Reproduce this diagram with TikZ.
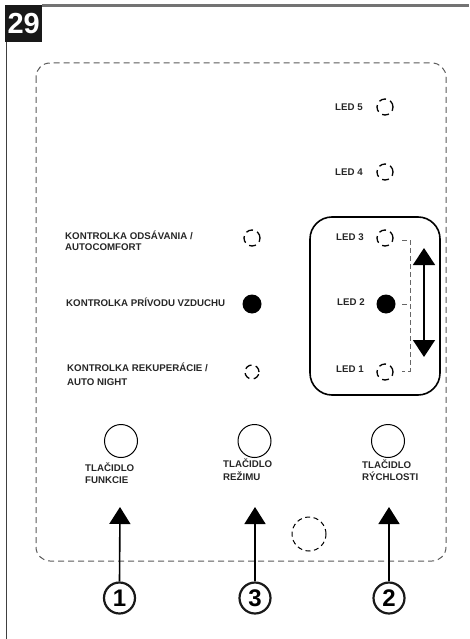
\documentclass[tikz,border=0pt]{standalone}
\usepackage{fontspec}
\setmainfont{Liberation Sans}
\usetikzlibrary{arrows.meta}
\begin{document}
\begin{tikzpicture}[x=1pt,y=-1pt,
  lbl/.style={font=\fontsize{9.7}{11}\selectfont\bfseries, align=left, inner sep=0pt, anchor=west, text=black!85},
  ledoff/.style={circle, draw=black, dash pattern=on 7pt off 4.5pt, line width=1.3pt, minimum size=16pt, inner sep=0pt},
  ledon/.style={circle, fill=black, minimum size=19pt, inner sep=0pt},
  button/.style={circle, draw=black, line width=1pt, minimum size=33pt, inner sep=0pt},
  numc/.style={circle, draw=black!90, line width=2.2pt, minimum size=31pt, inner sep=0pt, font=\fontsize{24}{24}\selectfont\bfseries},
  arr/.style={line width=1.6pt, -{Triangle[width=21pt,length=17pt]}},
  darr/.style={line width=1.6pt, {Triangle[width=22pt,length=17pt]}-{Triangle[width=22pt,length=17pt]}},
  guide/.style={draw=black!60, line width=0.9pt, dash pattern=on 5pt off 3pt}
]
\useasboundingbox (0,0) rectangle (469,639);
% frame
\draw[line width=2.2pt, black!55] (42,5.5) -- (469,5.5);
\draw[line width=1pt, black!75] (6,42) -- (6,639);
\node[fill=black!90, minimum width=37pt, minimum height=37pt, anchor=north west, inner sep=0pt,
  text=white, font=\fontsize{29}{29}\selectfont\bfseries] (num) at (5,5) {29};
% outer dashed panel
\draw[draw=black!65, line width=1pt, dash pattern=on 6pt off 4pt, rounded corners=14pt] (36,63) rectangle (446,561);
% LED group box
\draw[line width=1.6pt, rounded corners=22pt] (310,217) rectangle (440,395);
% LEDs
\node[lbl] (t5) at (335,107) {LED 5};
\node[ledoff] (l5) at (385,107) {};
\node[lbl] (t4) at (335,172) {LED 4};
\node[ledoff] (l4) at (385,172) {};
\node[lbl] (t3) at (336,237) {LED 3};
\node[ledoff] (l3) at (385,238) {};
\node[lbl] (t2) at (337,302) {LED 2};
\node[ledon] (l2) at (386,304) {};
\node[lbl] (t1) at (336,369) {LED 1};
\node[ledoff] (l1) at (385,372) {};
% guide dashes
\coordinate (g3) at (410,240);
\coordinate (g1) at (410,371);
\coordinate (g2) at (410,304);
\draw[guide] (402,240) -- (g3) -- (g1) -- (402,371);
\draw[guide] (402,304) -- (g2);
% double arrow
\coordinate (da) at (424,248);
\coordinate (db) at (424,357);
\draw[darr] (da) -- (db);
% indicator labels
\node[lbl] (k1) at (65,240.5) {KONTROLKA ODSÁVANIA /\\AUTOCOMFORT};
\node[ledoff] (c1) at (252,238) {};
\node[lbl] (k2) at (66,302) {KONTROLKA PRÍVODU VZDUCHU};
\node[ledon] (c2) at (252,304) {};
\node[lbl, font=\fontsize{9.7}{13.5}\selectfont\bfseries] (k3) at (67,374) {KONTROLKA REKUPERÁCIE /\\AUTO NIGHT};
\node[ledoff, minimum size=14pt] (c3) at (252,372) {};
% buttons
\node[button] (b1) at (121,441) {};
\node[button] (b3) at (254.5,441) {};
\node[button] (b2) at (388,441) {};
\node[lbl, font=\fontsize{9.7}{12.5}\selectfont\bfseries] (bt1) at (85,473) {TLAČIDLO\\FUNKCIE};
\node[lbl, font=\fontsize{9.7}{12.5}\selectfont\bfseries] (bt3) at (223,469.5) {TLAČIDLO\\REŽIMU};
\node[lbl, font=\fontsize{9.7}{12.5}\selectfont\bfseries] (bt2) at (362,470) {TLAČIDLO\\RÝCHLOSTI};
% dashed circle
\node[circle, draw=black, line width=1pt, dash pattern=on 5pt off 3.5pt, minimum size=34pt, inner sep=0pt] (dc) at (309,534) {};
% numbered callouts
\node[numc] (n1) at (119.5,598) {1};
\node[numc] (n3) at (255,598) {3};
\node[numc] (n2) at (389,598) {2};
\coordinate (a1) at (120,507);
\coordinate (a3) at (255,507);
\coordinate (a2) at (389,507);
\draw[arr] (n1.north) -- (a1);
\draw[arr] (n3.north) -- (a3);
\draw[arr] (n2.north) -- (a2);
\end{tikzpicture}
\end{document}
